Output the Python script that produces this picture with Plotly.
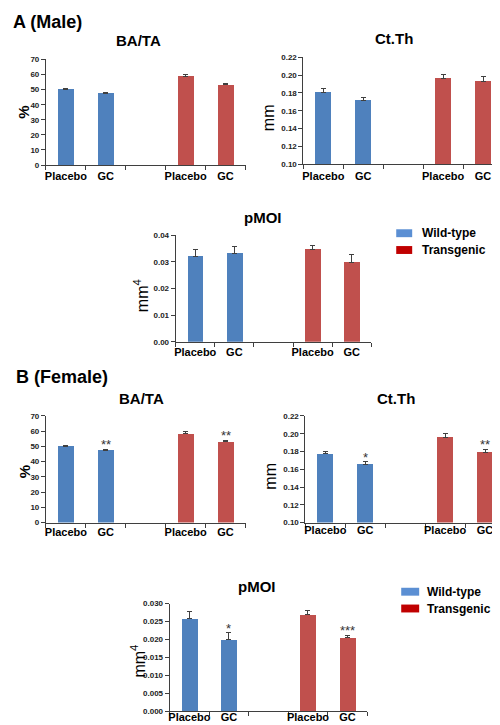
import plotly.graph_objects as go

# ---------------- data ----------------
treatments = ["Placebo", "GC"]
groups = ["Wild-type", "Transgenic"]

# (A) Male
male_bata_wt = [50.2, 47.6]
male_bata_wt_err = [0.5, 0.4]
male_bata_tg = [58.5, 53.1]
male_bata_tg_err = [1.2, 0.9]

male_ctth_wt = [0.1805, 0.1716]
male_ctth_wt_err = [0.0050, 0.0037]
male_ctth_tg = [0.1964, 0.1925]
male_ctth_tg_err = [0.0040, 0.0060]

male_pmoi_wt = [0.0320, 0.0331]
male_pmoi_wt_err = [0.0025, 0.0025]
male_pmoi_tg = [0.0346, 0.0298]
male_pmoi_tg_err = [0.0015, 0.0028]

# (B) Female
female_bata_wt = [50.1, 47.5]
female_bata_wt_err = [0.5, 0.5]
female_bata_tg = [58.3, 52.9]
female_bata_tg_err = [1.3, 1.0]

female_ctth_wt = [0.1775, 0.1656]
female_ctth_wt_err = [0.0022, 0.0030]
female_ctth_tg = [0.1962, 0.1790]
female_ctth_tg_err = [0.0037, 0.0034]

female_pmoi_wt = [0.0259, 0.0200]
female_pmoi_wt_err = [0.0018, 0.0018]
female_pmoi_tg = [0.0269, 0.0206]
female_pmoi_tg_err = [0.0012, 0.0006]

# significance markers
no_sig = ["", ""]
female_bata_wt_sig = ["", "**"]
female_bata_tg_sig = ["", "**"]
female_ctth_wt_sig = ["", "*"]
female_ctth_tg_sig = ["", "**"]
female_pmoi_wt_sig = ["", "*"]
female_pmoi_tg_sig = ["", "***"]

# ---------------- style ----------------
W, H = 500, 725
BLUE = "#4F81BD"
RED = "#C0504D"
LEG_BLUE = "#5B8FD3"
LEG_RED = "#C00000"
AXIS = "#3F3F3F"
ERR = "#404040"
FONT = "Liberation Sans, Arial, sans-serif"


def fx(p):
    return p / W


def fy(p):
    return 1 - p / H


n = len(treatments)
wt_x = list(range(n))
tg_x = [i + n + 1 for i in range(n)]
all_x = wt_x + tg_x
xrange_ = [-0.5, 2 * n + 0.5]
boundaries = [i - 0.5 for i in range(2 * n + 2)]

panels = [
    dict(title="BA/TA", ytitle="%", ytitle_bold=True,
         wt=male_bata_wt, wte=male_bata_wt_err, tg=male_bata_tg, tge=male_bata_tg_err,
         wts=no_sig, tgs=no_sig, standoff=1,
         box=(37, 237, 48, 155), yrange=[0, 70], dtick=10, fmt="d",
         title_pos=(130, 29), ytitle_pos=(15, 101)),
    dict(title="Ct.Th", ytitle="mm", ytitle_bold=False,
         wt=male_ctth_wt, wte=male_ctth_wt_err, tg=male_ctth_tg, tge=male_ctth_tg_err,
         wts=no_sig, tgs=no_sig, standoff=2,
         box=(295, 495, 46, 154), yrange=[0.10, 0.22], dtick=0.02, fmt=".2f",
         title_pos=(386, 27), ytitle_pos=(260, 107)),
    dict(title="pMOI", ytitle="mm<sup>4</sup>", ytitle_bold=False,
         wt=male_pmoi_wt, wte=male_pmoi_wt_err, tg=male_pmoi_tg, tge=male_pmoi_tg_err,
         wts=no_sig, tgs=no_sig, standoff=0,
         box=(167, 363, 226, 334), yrange=[0, 0.04], dtick=0.01, fmt=".2f",
         title_pos=(255, 208), ytitle_pos=(133, 287)),
    dict(title="BA/TA", ytitle="%", ytitle_bold=True,
         wt=female_bata_wt, wte=female_bata_wt_err, tg=female_bata_tg, tge=female_bata_tg_err,
         wts=female_bata_wt_sig, tgs=female_bata_tg_sig, standoff=-1,
         box=(37, 237, 409, 517), yrange=[0, 70], dtick=10, fmt="d",
         title_pos=(133, 391), ytitle_pos=(15, 465)),
    dict(title="Ct.Th", ytitle="mm", ytitle_bold=False,
         wt=female_ctth_wt, wte=female_ctth_wt_err, tg=female_ctth_tg, tge=female_ctth_tg_err,
         wts=female_ctth_wt_sig, tgs=female_ctth_tg_sig, standoff=-3,
         box=(297, 497, 409, 517), yrange=[0.10, 0.22], dtick=0.02, fmt=".2f",
         title_pos=(388, 391), ytitle_pos=(262, 470)),
    dict(title="pMOI", ytitle="mm<sup>4</sup>", ytitle_bold=False,
         wt=female_pmoi_wt, wte=female_pmoi_wt_err, tg=female_pmoi_tg, tge=female_pmoi_tg_err,
         wts=female_pmoi_wt_sig, tgs=female_pmoi_tg_sig, standoff=-4,
         box=(161, 359, 599, 708), yrange=[0, 0.03], dtick=0.005, fmt=".3f",
         title_pos=(248, 582), ytitle_pos=(129, 657)),
]

fig = go.Figure()
annotations = []
shapes = []

for k, p in enumerate(panels):
    idx = "" if k == 0 else str(k + 1)
    xref, yref = "x" + idx, "y" + idx
    for xs, vals, errs, sigs, color in ((wt_x, p["wt"], p["wte"], p["wts"], BLUE),
                                        (tg_x, p["tg"], p["tge"], p["tgs"], RED)):
        fig.add_trace(go.Bar(
            x=xs, y=vals, width=0.4, marker=dict(color=color, line=dict(width=0)),
            error_y=dict(type="data", symmetric=False, array=errs, arrayminus=[0] * len(errs),
                         color=ERR, thickness=1, width=2.5),
            xaxis=xref, yaxis=yref, showlegend=False, hoverinfo="skip"))
        for xv, v, e, s in zip(xs, vals, errs, sigs):
            if s:
                annotations.append(dict(
                    x=xv, y=v + e, xref=xref, yref=yref, text=s, showarrow=False,
                    yanchor="bottom", yshift=-5,
                    font=dict(family=FONT, size=13, color="#333333")))
    x0, x1, y0, y1 = p["box"]
    fig.layout["xaxis" + idx] = dict(
        domain=[fx(x0), fx(x1)], anchor=yref, range=xrange_,
        tickmode="array", tickvals=all_x, ticktext=treatments + treatments,
        ticks="", ticklabelstandoff=p["standoff"],
        tickfont=dict(family=FONT, size=11, color="black", weight="bold"),
        showline=True, linecolor=AXIS, linewidth=1, showgrid=False, zeroline=False,
        minor=dict(tickmode="array", tickvals=boundaries, ticks="outside", ticklen=4,
                   tickcolor=AXIS, tickwidth=1, showgrid=False),
        fixedrange=True)
    fig.layout["yaxis" + idx] = dict(
        domain=[fy(y1), fy(y0)], anchor=xref, range=p["yrange"],
        tick0=p["yrange"][0], dtick=p["dtick"], tickformat=p["fmt"],
        ticks="outside", ticklen=4, tickcolor=AXIS, tickwidth=1,
        tickfont=dict(family=FONT, size=8, color="#222222", weight="bold"),
        showline=True, linecolor=AXIS, linewidth=1, showgrid=False, zeroline=False,
        fixedrange=True)
    tx, ty = p["title_pos"]
    annotations.append(dict(x=fx(tx), y=fy(ty), xref="paper", yref="paper", text=p["title"],
                            showarrow=False, xanchor="center", yanchor="middle",
                            font=dict(family=FONT, size=15, color="black", weight="bold")))
    ax, ay = p["ytitle_pos"]
    annotations.append(dict(x=fx(ax), y=fy(ay), xref="paper", yref="paper", text=p["ytitle"],
                            showarrow=False, textangle=-90, xanchor="center", yanchor="middle",
                            font=dict(family=FONT, size=16 if not p["ytitle_bold"] else 15,
                                      color="black",
                                      weight="bold" if p["ytitle_bold"] else "normal")))

# panel labels
annotations.append(dict(x=fx(2), y=fy(10), xref="paper", yref="paper", text="A (Male)",
                        showarrow=False, xanchor="left", yanchor="middle",
                        font=dict(family=FONT, size=18, color="black", weight="bold")))
annotations.append(dict(x=fx(5), y=fy(370), xref="paper", yref="paper", text="B (Female)",
                        showarrow=False, xanchor="left", yanchor="middle",
                        font=dict(family=FONT, size=18, color="black", weight="bold")))

# legends (drawn as keys next to each pMOI panel)
legend_specs = [
    dict(sq=(388, 404), rows=[(220, 228), (237, 245)], tx=412),
    dict(sq=(393, 411), rows=[(583, 591), (600, 608)], tx=417),
]
for ls in legend_specs:
    for (r0, r1), name, col in zip(ls["rows"], groups, (LEG_BLUE, LEG_RED)):
        shapes.append(dict(type="rect", xref="paper", yref="paper",
                           x0=fx(ls["sq"][0]), x1=fx(ls["sq"][1]), y0=fy(r1), y1=fy(r0),
                           fillcolor=col, line=dict(width=0)))
        annotations.append(dict(x=fx(ls["tx"]), y=fy((r0 + r1) / 2), xref="paper", yref="paper",
                                text=name, showarrow=False, xanchor="left", yanchor="middle",
                                font=dict(family=FONT, size=12, color="black", weight="bold")))

fig.update_layout(
    width=W, height=H, margin=dict(l=0, r=0, t=0, b=0),
    paper_bgcolor="white", plot_bgcolor="white",
    annotations=annotations, shapes=shapes, bargap=0, showlegend=False,
    font=dict(family=FONT),
)

fig.write_html("out.html")
